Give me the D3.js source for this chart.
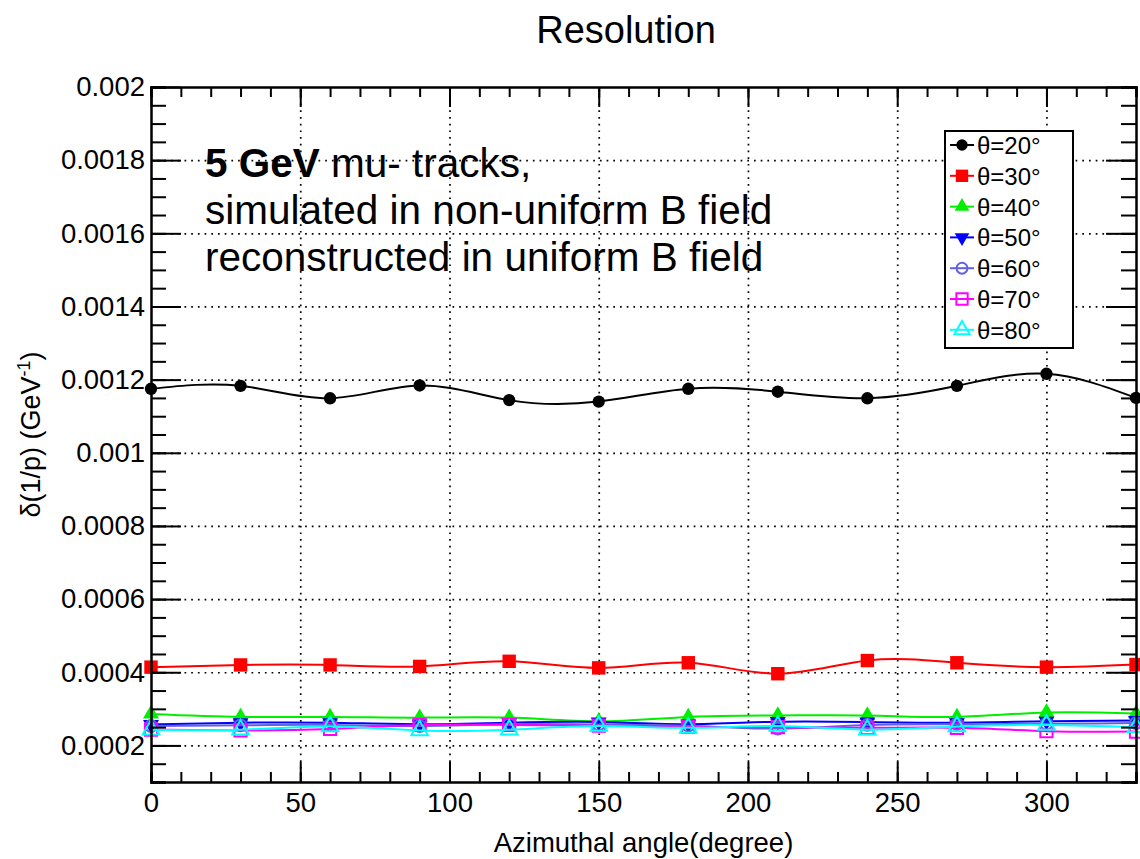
<!DOCTYPE html>
<html>
<head>
<meta charset="utf-8">
<script src="https://cdn.jsdelivr.net/npm/d3@7"></script>
<style>
  html, body { margin: 0; padding: 0; background: #fff; }
  svg { display: block; font-family: "Liberation Sans", Arial, Helvetica, sans-serif; }
</style>
</head>
<body>
<svg id="chart" width="1140" height="859"></svg>
<script>
// Azimuthal angle (degree) at which each point was simulated
const angles = [0, 30, 60, 90, 120, 150, 180, 210, 240, 270, 300, 330];

// Momentum resolution delta(1/p) in GeV^-1, one array per polar angle
const theta20 = [0.001175, 0.001183, 0.001149, 0.001184, 0.001144, 0.001140, 0.001175, 0.001167, 0.001149, 0.001183, 0.001216, 0.001150];
const theta30 = [0.000414, 0.000420, 0.000420, 0.000416, 0.000430, 0.000412, 0.000426, 0.000396, 0.000432, 0.000426, 0.000414, 0.000421];
const theta40 = [0.000286, 0.000278, 0.000278, 0.000276, 0.000276, 0.000266, 0.000278, 0.000282, 0.000282, 0.000278, 0.000290, 0.000287];
const theta50 = [0.000257, 0.000262, 0.000262, 0.000258, 0.000262, 0.000264, 0.000258, 0.000265, 0.000264, 0.000262, 0.000266, 0.000268];
const theta60 = [0.000253, 0.000255, 0.000256, 0.000253, 0.000258, 0.000257, 0.000254, 0.000246, 0.000256, 0.000258, 0.000259, 0.000261];
const theta70 = [0.000243, 0.000241, 0.000245, 0.000256, 0.000256, 0.000254, 0.000251, 0.000250, 0.000248, 0.000248, 0.000239, 0.000238];
const theta80 = [0.000243, 0.000243, 0.000252, 0.000241, 0.000243, 0.000253, 0.000248, 0.000253, 0.000243, 0.000252, 0.000256, 0.000250];

const seriesNames = ["θ=20°", "θ=30°", "θ=40°", "θ=50°", "θ=60°", "θ=70°", "θ=80°"];
const seriesValues = [theta20, theta30, theta40, theta50, theta60, theta70, theta80];

// Axis ticks
const xMajorTicks = [0, 50, 100, 150, 200, 250, 300];
const xMinorTicks = d3.range(0, 331, 10);
const yMajorTicks = [0.0002, 0.0004, 0.0006, 0.0008, 0.001, 0.0012, 0.0014, 0.0016, 0.0018, 0.002];
const yTickLabels = ["0.0002", "0.0004", "0.0006", "0.0008", "0.001", "0.0012", "0.0014", "0.0016", "0.0018", "0.002"];
const yMinorTicks = d3.range(2, 41).map(k => k * 0.00005);

// Marker / colour styling per series
const styles = [
  { color: "#000000", symbol: d3.symbolCircle,   size: 120, filled: true,  rotate: 0 },
  { color: "#ff0000", symbol: d3.symbolSquare,   size: 180, filled: true,  rotate: 0 },
  { color: "#00ee00", symbol: d3.symbolTriangle, size: 110, filled: true,  rotate: 0 },
  { color: "#0000ff", symbol: d3.symbolTriangle, size: 110, filled: true,  rotate: 180 },
  { color: "#6262e0", symbol: d3.symbolCircle,   size: 110, filled: false, rotate: 0 },
  { color: "#ff00ff", symbol: d3.symbolSquare,   size: 150, filled: false, rotate: 0 },
  { color: "#00ffff", symbol: d3.symbolTriangle, size: 120, filled: false, rotate: 0 }
];

const svg = d3.select("#chart");
const margin = { left: 151, right: 1136, top: 87, bottom: 782 };
const W = margin.right - margin.left;
const H = margin.bottom - margin.top;

const x = d3.scaleLinear().domain([0, 330]).range([margin.left, margin.right]);
const y = d3.scaleLinear().domain([0.0001, 0.002]).range([margin.bottom, margin.top]);

// Title
svg.append("text")
  .attr("x", 626).attr("y", 43)
  .attr("text-anchor", "middle")
  .attr("font-size", 38)
  .text("Resolution");

// Dotted grid at the major ticks
const grid = svg.append("g");
grid.append("g")
  .attr("transform", `translate(0,${margin.bottom})`)
  .call(d3.axisBottom(x).tickValues(xMajorTicks.filter(v => v > 0)).tickSize(-H).tickFormat(""))
  .call(g => g.select(".domain").remove());
grid.append("g")
  .attr("transform", `translate(${margin.left},0)`)
  .call(d3.axisLeft(y).tickValues(yMajorTicks.filter(v => v < 0.002)).tickSize(-W).tickFormat(""))
  .call(g => g.select(".domain").remove());
grid.selectAll("line").attr("stroke", "#000").attr("stroke-width", 1.7).attr("stroke-dasharray", "1.7,5");

// Series: smooth line then markers
const line = d3.line()
  .x(d => x(d[0]))
  .y(d => y(d[1]))
  .curve(d3.curveNatural);

seriesValues.forEach((vals, i) => {
  const st = styles[i];
  const pts = angles.map((a, j) => [a, vals[j]]);
  const g = svg.append("g");
  g.append("path")
    .datum(pts)
    .attr("d", line)
    .attr("fill", "none")
    .attr("stroke", st.color)
    .attr("stroke-width", 2);
  g.selectAll("path.mk")
    .data(pts)
    .join("path")
    .attr("class", "mk")
    .attr("d", d3.symbol().type(st.symbol).size(st.size))
    .attr("transform", d => `translate(${x(d[0])},${y(d[1])}) rotate(${st.rotate})`)
    .attr("fill", st.filled ? st.color : "none")
    .attr("stroke", st.color)
    .attr("stroke-width", st.filled ? 0 : 2);
});

// Frame and ticks on all four sides
const axes = svg.append("g");
// bottom: labelled, ticks inward
const bottomAxis = axes.append("g").attr("transform", `translate(0,${margin.bottom})`);
bottomAxis.call(d3.axisBottom(x).tickValues(xMinorTicks).tickSize(-10).tickFormat(""));
bottomAxis.append("g").call(d3.axisBottom(x).tickValues(xMajorTicks).tickSize(-20).tickPadding(10).tickFormat(d3.format("d")))
  .call(g => g.select(".domain").remove());
// top
const topAxis = axes.append("g").attr("transform", `translate(0,${margin.top})`);
topAxis.call(d3.axisTop(x).tickValues(xMinorTicks).tickSize(-10).tickFormat(""));
topAxis.append("g").call(d3.axisTop(x).tickValues(xMajorTicks).tickSize(-20).tickFormat(""))
  .call(g => g.select(".domain").remove());
// left: labelled
const leftAxis = axes.append("g").attr("transform", `translate(${margin.left},0)`);
leftAxis.call(d3.axisLeft(y).tickValues(yMinorTicks).tickSize(-15).tickFormat(""));
leftAxis.append("g").call(d3.axisLeft(y).tickValues(yMajorTicks).tickSize(-30).tickPadding(6)
    .tickFormat((d, i) => yTickLabels[i]))
  .call(g => g.select(".domain").remove());
// right
const rightAxis = axes.append("g").attr("transform", `translate(${margin.right},0)`);
rightAxis.call(d3.axisRight(y).tickValues(yMinorTicks).tickSize(-15).tickFormat(""));
rightAxis.append("g").call(d3.axisRight(y).tickValues(yMajorTicks).tickSize(-30).tickFormat(""))
  .call(g => g.select(".domain").remove());

axes.selectAll(".domain").attr("stroke", "#000").attr("stroke-width", 2.5);
axes.selectAll(".tick line").attr("stroke", "#000").attr("stroke-width", 2);
axes.selectAll(".tick text").attr("fill", "#000")
  .attr("font-family", "'Liberation Sans', Arial, sans-serif").attr("font-size", 27.5);

// Axis titles
svg.append("text")
  .attr("x", (margin.left + margin.right) / 2).attr("y", 852)
  .attr("text-anchor", "middle")
  .attr("font-size", 27.5)
  .text("Azimuthal angle(degree)");

const yTitle = svg.append("text")
  .attr("transform", `translate(40,${(margin.top + margin.bottom) / 2}) rotate(-90)`)
  .attr("text-anchor", "middle")
  .attr("font-size", 27);
yTitle.append("tspan").text("δ(1/p) (GeV");
yTitle.append("tspan").attr("dy", -10).attr("font-size", 18).text("-1");
yTitle.append("tspan").attr("dy", 10).text(")");

// Annotation
const note = svg.append("g").attr("font-size", 40.5);
const l1 = note.append("text").attr("x", 205).attr("y", 177);
l1.append("tspan").attr("font-weight", "bold").text("5 GeV");
l1.append("tspan").text(" mu- tracks,");
note.append("text").attr("x", 205).attr("y", 224).text("simulated in non-uniform B field");
note.append("text").attr("x", 205).attr("y", 271).text("reconstructed in uniform B field");

// Legend
const lg = svg.append("g");
lg.append("rect")
  .attr("x", 945).attr("y", 131).attr("width", 128).attr("height", 217)
  .attr("fill", "#fff").attr("stroke", "#000").attr("stroke-width", 2);
seriesNames.forEach((name, i) => {
  const st = styles[i];
  const cy = 145 + i * 30.8;
  lg.append("line")
    .attr("x1", 950).attr("x2", 974).attr("y1", cy).attr("y2", cy)
    .attr("stroke", st.color).attr("stroke-width", 2);
  lg.append("path")
    .attr("d", d3.symbol().type(st.symbol).size(st.size * 0.85)())
    .attr("transform", `translate(962,${cy}) rotate(${st.rotate})`)
    .attr("fill", st.filled ? st.color : "none")
    .attr("stroke", st.color)
    .attr("stroke-width", st.filled ? 0 : 2);
  lg.append("text")
    .attr("x", 977).attr("y", cy + 9)
    .attr("font-size", 24)
    .text(name);
});
</script>
</body>
</html>
